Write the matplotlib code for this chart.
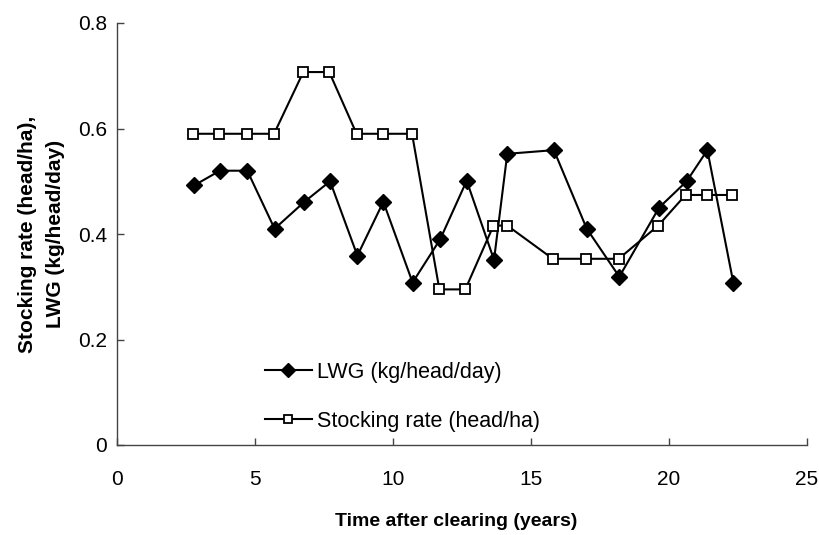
import matplotlib
matplotlib.use("Agg")
import matplotlib.pyplot as plt

plt.rcParams['font.family'] = ['Liberation Sans', 'DejaVu Sans']

# LWG (kg/head/day)
lwg_years = [2.79, 3.73, 4.72, 5.71, 6.79, 7.72, 8.71, 9.65, 10.71, 11.71,
             12.67, 13.66, 14.14, 15.83, 17.02, 18.2, 19.64, 20.64, 21.39, 22.33]
lwg = [0.492, 0.52, 0.52, 0.41, 0.461, 0.50, 0.359, 0.461, 0.308, 0.39,
       0.501, 0.351, 0.552, 0.559, 0.41, 0.319, 0.45, 0.50, 0.559, 0.308]

# Stocking rate (head/ha)
sr_years = [2.76, 3.70, 4.70, 5.69, 6.75, 7.69, 8.68, 9.63, 10.69, 11.68,
            12.62, 13.64, 14.14, 15.79, 16.99, 18.18, 19.61, 20.6, 21.37, 22.29]
sr = [0.59, 0.59, 0.59, 0.59, 0.707, 0.707, 0.59, 0.59, 0.59, 0.295,
      0.295, 0.416, 0.416, 0.353, 0.353, 0.353, 0.416, 0.474, 0.474, 0.474]

xticks = [0, 5, 10, 15, 20, 25]
yticks = [0, 0.2, 0.4, 0.6, 0.8]
yticklabels = ['0', '0.2', '0.4', '0.6', '0.8']

fig = plt.figure(figsize=(8.19, 5.35), dpi=100)
ax = fig.add_axes([117 / 819, 90 / 535, 690 / 819, 422 / 535])

ax.plot(lwg_years, lwg, color='black', linewidth=1.5, marker='D',
        markersize=8.5, markerfacecolor='black', markeredgecolor='black',
        label='LWG (kg/head/day)', clip_on=False)
ax.plot(sr_years, sr, color='black', linewidth=1.5, marker='s',
        markersize=7.5, markerfacecolor='white', markeredgecolor='black',
        markeredgewidth=1.3, label='Stocking rate (head/ha)', clip_on=False)

ax.set_xlim(0, 25)
ax.set_ylim(0, 0.8)
ax.set_xticks(xticks)
ax.set_yticks(yticks)
ax.set_yticklabels(yticklabels)

for s in ['top', 'right']:
    ax.spines[s].set_visible(False)
for s in ['left', 'bottom']:
    ax.spines[s].set_color('#444444')
    ax.spines[s].set_linewidth(1.0)

ax.tick_params(axis='x', direction='in', length=5, width=1, color='#444444',
               labelsize=15, pad=18)
ax.tick_params(axis='y', direction='in', length=5, width=1, color='#444444',
               labelsize=15, pad=7)

ax.set_xlabel('Time after clearing (years)', fontsize=14, fontweight='bold')
ax.xaxis.set_label_coords(0.491, -0.162)
ax.xaxis.label.set_va('top')
ax.set_ylabel('Stocking rate (head/ha),\nLWG (kg/head/day)', fontsize=15,
              fontweight='bold', linespacing=1.55)
ax.yaxis.set_label_coords(-0.076, 0.5)

ax.legend(loc='center left', bbox_to_anchor=(0.214, 0.114), frameon=False,
          prop={'size': 15.5}, handlelength=2.2, handletextpad=0.25,
          labelspacing=1.3, borderpad=0, borderaxespad=0, markerscale=0.85)

fig.savefig('out.png', dpi=100)
